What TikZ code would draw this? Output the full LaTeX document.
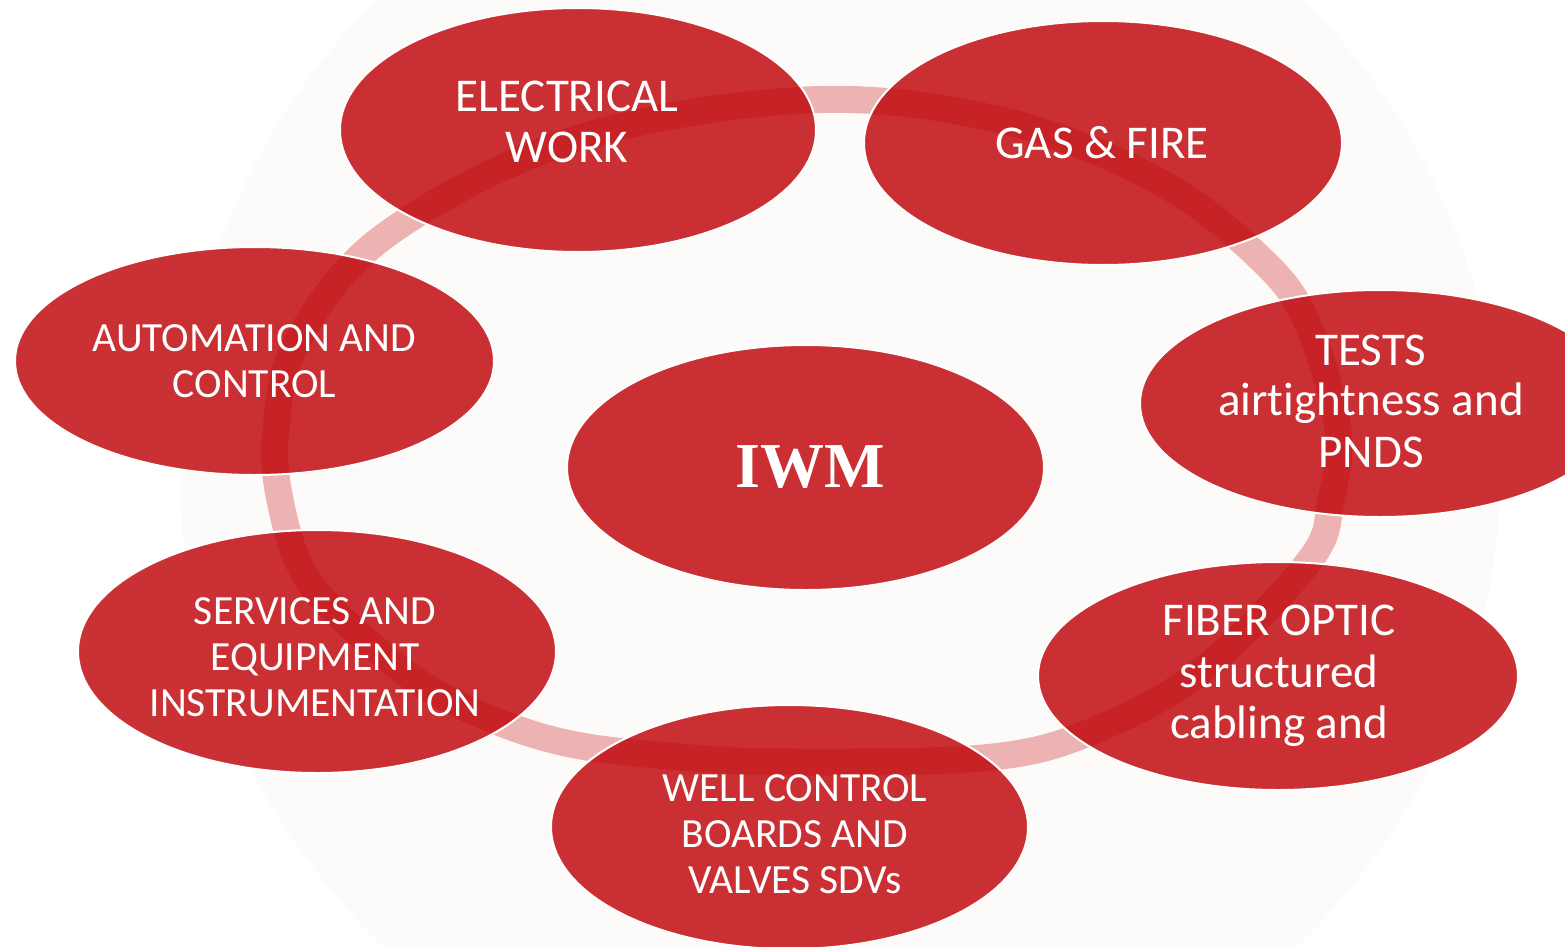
\documentclass[tikz,border=0pt]{standalone}
\usepackage{fontspec}
\setmainfont{Carlito}[RawFeature={-liga;-clig;-dlig}]
\newfontfamily\iwmfont{Liberation Serif}
\usetikzlibrary{shapes.geometric}
\definecolor{ringpink}{RGB}{237,178,178}
\definecolor{bubblered}{RGB}{191,4,8}
\definecolor{wmark}{RGB}{253,250,250}
\begin{document}
\begin{tikzpicture}[x=1pt,y=-1pt,
  bubble/.style={ellipse, fill=bubblered, fill opacity=0.82, draw=white, line width=2pt, inner sep=0pt},
  bigtxt/.style={anchor=base, text=white, font=\fontsize{47}{51}\selectfont, inner sep=0pt},
  smalltxt/.style={anchor=base, text=white, font=\fontsize{41.5}{46}\selectfont, inner sep=0pt},
  ringline/.style={draw=ringpink, line width=27pt}]
\useasboundingbox (0,0) rectangle (1565,947);
\clip (0,0) rectangle (1565,947);
\fill[white] (0,0) rectangle (1565,947);
% faint watermark disc
\fill[wmark] (840,470) circle[radius=660pt];
% ring
\draw[ringline] plot[smooth cycle, tension=0.6] coordinates {
 (807,100) (1000,120) (1160,182) (1267,265) (1310,330) (1338,430) (1331,500)
 (1310,560) (1205,668) (1100,728) (993,757) (800,762) (680,757) (553,740)
 (440,695) (360,635) (305,575) (280,500) (276,430) (298,340) (386,235) (573,140)};
% bubbles
\node[bubble, minimum width=476pt, minimum height=244pt] (elec) at (578,130) {};
\node[bubble, minimum width=478pt, minimum height=244pt] (gas) at (1103,143) {};
\node[bubble, minimum width=480pt, minimum height=227pt] (tests) at (1380,403.5) {};
\node[bubble, minimum width=480pt, minimum height=228pt] (fiber) at (1278,676) {};
\node[bubble, minimum width=477pt, minimum height=244pt] (well) at (789.5,827) {};
\node[bubble, minimum width=478pt, minimum height=243pt] (serv) at (317,651.5) {};
\node[bubble, minimum width=479pt, minimum height=228pt] (auto) at (254.5,361) {};
\node[bubble, minimum width=477pt, minimum height=245pt] (iwm) at (805.5,467.5) {};
% labels
\node[bigtxt] (elecA) at (567,112) {ELECTRICAL};
\node[bigtxt] (elecB) at (567,162) {WORK};
\node[bigtxt] (gasA) at (1102,158) {GAS \& FIRE};
\node[bigtxt] (testsA) at (1371,365) {TESTS};
\node[bigtxt] (testsB) at (1371,415) {airt\kern0pt ightness and};
\node[bigtxt] (testsC) at (1371,467) {PNDS};
\node[bigtxt] (fiberA) at (1279,635) {FIBER OPTIC};
\node[bigtxt] (fiberB) at (1279,687) {structured};
\node[bigtxt] (fiberC) at (1279,738) {cabling and};
\node[smalltxt] (autoA) at (254.5,351) {AUTOMATION AND};
\node[smalltxt] (autoB) at (254.5,397) {CONTROL};
\node[smalltxt] (servA) at (315,624) {SERVICES AND};
\node[smalltxt] (servB) at (315,670) {EQUIPMENT};
\node[smalltxt] (servC) at (315,716) {INSTRUMENTATION};
\node[smalltxt] (wellA) at (795,801) {WELL CONTROL};
\node[smalltxt] (wellB) at (795,847) {BOARDS AND};
\node[smalltxt] (wellC) at (795,893) {VALVES SDVs};
\node[anchor=base, text=white, inner sep=0pt, font=\iwmfont\bfseries\fontsize{64}{70}\selectfont] (iwmtxt) at (810,487) {IWM};
\end{tikzpicture}
\end{document}
